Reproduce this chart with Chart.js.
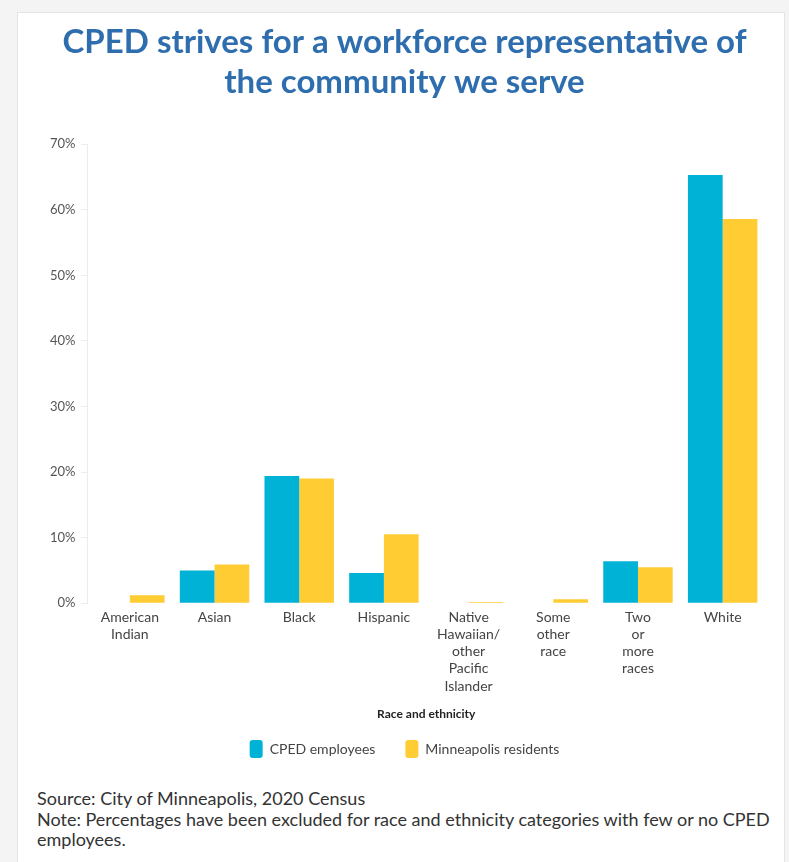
<!DOCTYPE html>
<html>
<head>
<meta charset="utf-8">
<script src="https://cdn.jsdelivr.net/npm/chart.js@4"></script>
<style>
    body { margin: 0; background: #f4f4f4; font-family: Lato, sans-serif; }
    #panel { position: absolute; left: 17px; top: 12px; width: 766px; height: 860px; background: #fff; border: 1px solid #e4e4e4; }
    #wrap { position: relative; width: 766px; height: 755px; }
    #notas { padding: 20px 10px 0 19px; font-size: 18px; color: #333; line-height: 20.5px; }
</style>
</head>
<body>
<div id="panel">
    <div id="wrap"><canvas id="graficoRaza"></canvas></div>
    <div id="notas">Source: City of Minneapolis, 2020 Census<br>Note: Percentages have been excluded for race and ethnicity categories with few or no CPED employees.</div>
</div>
<script>
// categorias y valores (%)
const categorias = [
    ['American', 'Indian'],
    'Asian',
    'Black',
    'Hispanic',
    ['Native', 'Hawaiian/', 'other', 'Pacific', 'Islander'],
    ['Some', 'other', 'race'],
    ['Two', 'or', 'more', 'races'],
    'White'
];
const empleadosCPED = [null, 5.0, 19.4, 4.6, null, null, 6.4, 65.3];
const residentesMpls = [1.2, 5.9, 19.0, 10.5, 0.2, 0.6, 5.5, 58.6];
const ticksY = [0, 10, 20, 30, 40, 50, 60, 70];

document.addEventListener('DOMContentLoaded', function(){
    const ctx = document.getElementById('graficoRaza').getContext('2d');
    new Chart(ctx, {
        type: 'bar',
        data: {
            labels: categorias,
            datasets: [
                {
                    label: 'CPED employees',
                    data: empleadosCPED,
                    backgroundColor: '#00b2d6'
                },
                {
                    label: 'Minneapolis residents',
                    data: residentesMpls,
                    backgroundColor: '#ffcc33'
                }
            ]
        },
        options: {
            responsive: true,
            maintainAspectRatio: false,
            animation: false,
            datasets: { bar: { categoryPercentage: 0.82, barPercentage: 1.0 } },
            layout: { padding: { left: 26, right: 19, top: 10, bottom: 0 } },
            plugins: {
                title: {
                    display: true,
                    text: ['CPED strives for a workforce representative of', 'the community we serve'],
                    color: '#2f6eae',
                    font: { family: 'Lato', size: 33, weight: 'bold' },
                    padding: { top: 0, bottom: 42 },
                    lineHeight: 1.2
                },
                legend: {
                    position: 'bottom',
                    labels: {
                        color: '#444',
                        font: { family: 'Lato', size: 14 },
                        boxWidth: 13,
                        boxHeight: 18,
                        useBorderRadius: true,
                        borderRadius: 3,
                        padding: 30
                    }
                },
                tooltip: { enabled: false }
            },
            scales: {
                y: {
                    min: 0,
                    max: 70,
                    afterBuildTicks: axis => { axis.ticks = ticksY.map(v => ({ value: v })); },
                    ticks: {
                        callback: v => v + '%',
                        color: '#555',
                        font: { family: 'Lato', size: 13 },
                        padding: 6
                    },
                    grid: { drawOnChartArea: false, color: '#ececec', tickLength: 6 },
                    border: { color: '#ececec' }
                },
                x: {
                    grid: { display: false, drawTicks: false, tickLength: 0 },
                    border: { display: false },
                    ticks: {
                        color: '#444',
                        font: { family: 'Lato', size: 14, lineHeight: 1.22 },
                        maxRotation: 0,
                        autoSkip: false,
                        padding: 6
                    },
                    title: {
                        display: true,
                        text: 'Race and ethnicity',
                        color: '#222',
                        font: { family: 'Lato', size: 12, weight: 'bold' },
                        padding: { top: 6, bottom: -11 }
                    }
                }
            }
        }
    });
});
</script>
</body>
</html>
